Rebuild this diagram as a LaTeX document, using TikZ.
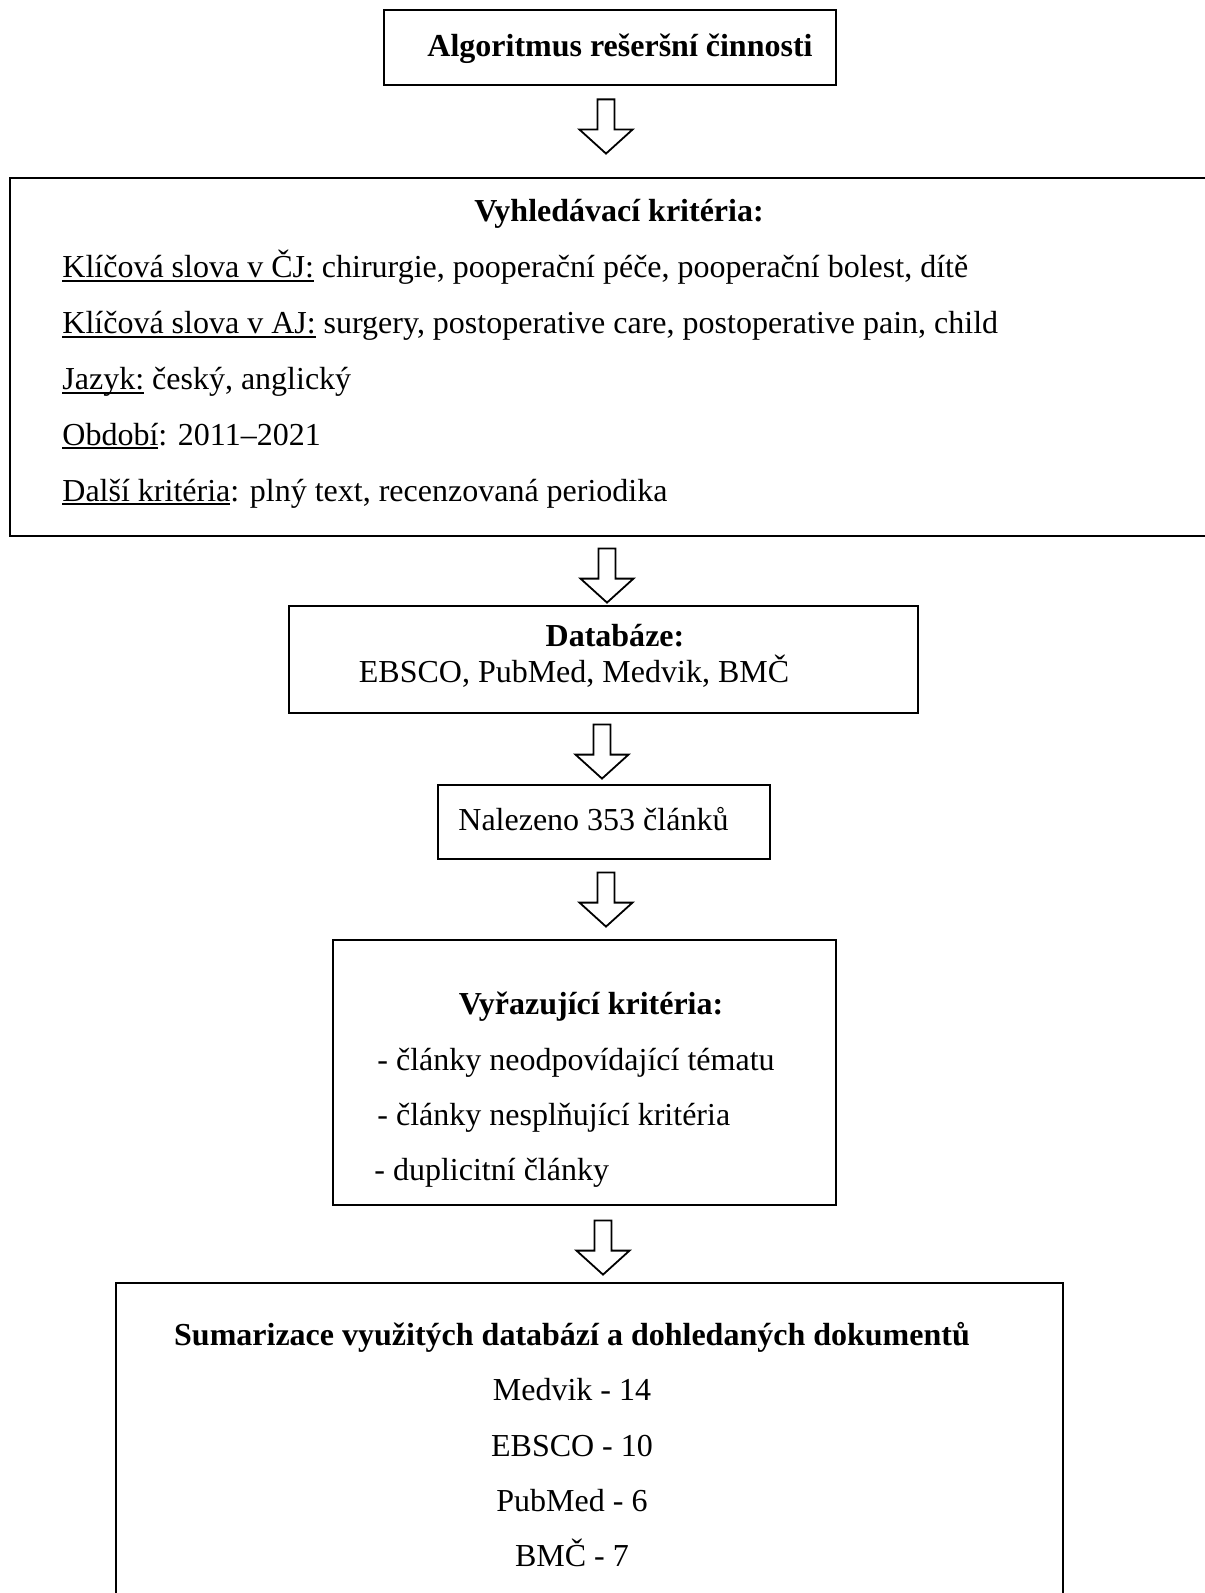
\documentclass[tikz,border=0pt]{standalone}
\usepackage{fontspec}
\setmainfont{Liberation Serif}
\usetikzlibrary{calc}

% underline at a fixed depth (through descenders)
\newcommand{\udl}[1]{\setbox0\hbox{#1}\rlap{\rule[-2pt]{\wd0}{0.8pt}}\box0\relax}

\tikzset{
  box/.style={draw, line width=1.4pt, inner sep=0pt},
  hollow/.style={draw, line width=0.9pt, fill=white, line join=miter},
  txt/.style={inner sep=0pt, font=\fontsize{16}{19}\selectfont},
  bold/.style={inner sep=0pt, font=\fontsize{16}{19}\selectfont\bfseries},
}

% hollow block arrow: from node #1 down to node #2, at x=#3, gaps #4 (top) and #5 (bottom)
\newcommand{\hollowarrow}[5]{%
  \coordinate (hx) at (#3,0);
  \coordinate (htop) at ($(#1.south -| hx)+(0,#4)$);
  \coordinate (htip) at ($(#2.north -| hx)+(0,-#5)$);
  \draw[hollow] ($(htop)+(-8.5,0)$) -- ($(htop)+(8.5,0)$) -- ($(htip)+(8.5,-24)$)
    -- ($(htip)+(26.5,-24)$) -- (htip) -- ($(htip)+(-26.5,-24)$)
    -- ($(htip)+(-8.5,-24)$) -- cycle;
}

\begin{document}
\begin{tikzpicture}[x=0.5pt, y=-0.5pt]
  \useasboundingbox (0,0) rectangle (1204,1593);

  % boxes
  \node[box, minimum width=226pt, minimum height=37.5pt] (alg) at (610,47.5) {};
  \node[box, minimum width=602.5pt, minimum height=179pt] (krit) at (612.5,357) {};
  \node[box, minimum width=314.5pt, minimum height=53.5pt] (db) at (603.5,659.5) {};
  \node[box, minimum width=166pt, minimum height=37pt] (nal) at (604,822) {};
  \node[box, minimum width=251.5pt, minimum height=132.5pt] (vyr) at (584.5,1072.5) {};
  \node[box, minimum width=473.5pt, minimum height=168.5pt] (sum) at (589.5,1451.5) {};

  % texts
  \begin{scope}[yshift=-1.5pt]
  \node[bold, anchor=base] (algT) at (620,54) {Algoritmus rešeršní činnosti};

  \node[bold, anchor=base] (kritT) at (619,219) {Vyhledávací kritéria:};
  \node[txt, anchor=base west] (kw1) at (62,275) {\udl{Klíčová slova v ČJ:} chirurgie, pooperační péče, pooperační bolest, dítě};
  \node[txt, anchor=base west] (kw2) at (62,331) {\udl{Klíčová slova v AJ:} surgery, postoperative care, postoperative pain, child};
  \node[txt, anchor=base west] (kw3) at (62,387) {\udl{Jazyk:} český, anglický};
  \node[txt, anchor=base west] (kw4) at (62,442) {\udl{Období}: 2011–2021};
  \node[txt, anchor=base west] (kw5) at (62,498) {\udl{Další kritéria}: plný text, recenzovaná periodika};

  \node[bold, anchor=base] (dbT) at (615,643) {Databáze:};
  \node[txt, anchor=base] (dbL) at (574,679) {EBSCO, PubMed, Medvik, BMČ};

  \node[txt, anchor=base west] (nalT) at (458,827) {Nalezeno 353 článků};

  \node[bold, anchor=base] (vyrT) at (591,1011) {Vyřazující kritéria:};
  \node[txt, anchor=base west] (vy1) at (377,1067) {- články neodpovídající tématu};
  \node[txt, anchor=base west] (vy2) at (377,1122) {- články nesplňující kritéria};
  \node[txt, anchor=base west] (vy3) at (374,1177) {- duplicitní články};

  \node[bold, anchor=base] (sumT) at (572,1342) {Sumarizace využitých databází a dohledaných dokumentů};
  \node[txt, anchor=base] (su1) at (572,1397) {Medvik - 14};
  \node[txt, anchor=base] (su2) at (572,1453) {EBSCO - 10};
  \node[txt, anchor=base] (su3) at (572,1508) {PubMed - 6};
  \node[txt, anchor=base] (su4) at (572,1563) {BMČ - 7};
  \end{scope}

  % arrows
  \hollowarrow{alg}{krit}{606}{13}{23}
  \hollowarrow{krit}{db}{607}{11}{2}
  \hollowarrow{db}{nal}{602}{10}{5}
  \hollowarrow{nal}{vyr}{606}{12}{12}
  \hollowarrow{vyr}{sum}{603}{14}{7}
\end{tikzpicture}
\end{document}
